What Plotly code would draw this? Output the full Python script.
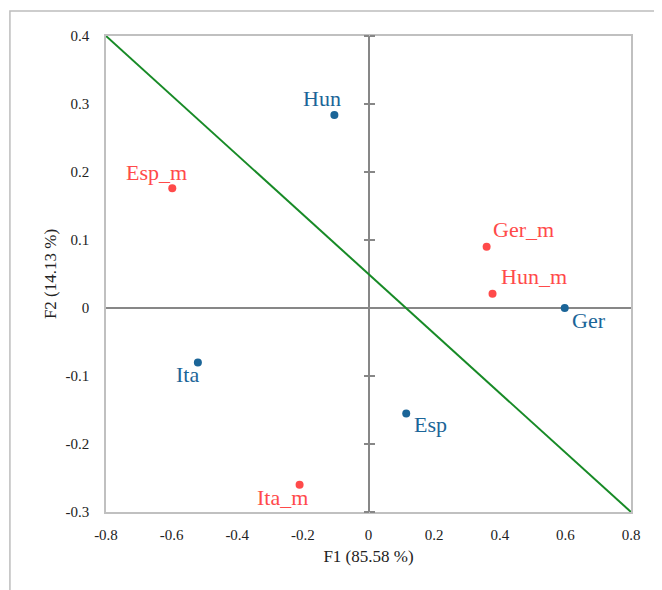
import plotly.graph_objects as go

# ---- data ----
blue_names = ["Hun", "Ger", "Ita", "Esp"]
blue_x = [-0.104, 0.598, -0.520, 0.115]
blue_y = [0.284, 0.000, -0.080, -0.155]

red_names = ["Esp_m", "Ger_m", "Hun_m", "Ita_m"]
red_x = [-0.598, 0.360, 0.378, -0.210]
red_y = [0.176, 0.090, 0.021, -0.260]

line_x = [-0.8, 0.8]
line_y = [0.4, -0.3]

x_ticks = [-0.8, -0.6, -0.4, -0.2, 0, 0.2, 0.4, 0.6, 0.8]
x_ticktext = ["-0.8", "-0.6", "-0.4", "-0.2", "0", "0.2", "0.4", "0.6", "0.8"]
y_ticks = [0.4, 0.3, 0.2, 0.1, 0, -0.1, -0.2, -0.3]
y_ticktext = ["0.4", "0.3", "0.2", "0.1", "0", "-0.1", "-0.2", "-0.3"]

# label offsets (pixels) for text placement
blue_dx = [-12, 24, -10, 24]
blue_dy = [16, -12, -12, -11]
red_dx = [-16, 37, 41, -17]
red_dy = [16, 17, 17, -13]

BLUE = "#1b6598"
RED = "#ff4a4a"
GREEN = "#178a26"
FONT = "Liberation Serif, Times New Roman, DejaVu Serif, serif"

fig = go.Figure()
fig.add_trace(go.Scatter(x=line_x, y=line_y, mode="lines",
                         line=dict(color=GREEN, width=2), hoverinfo="skip"))
fig.add_trace(go.Scatter(x=blue_x, y=blue_y, mode="markers",
                         marker=dict(color=BLUE, size=8)))
fig.add_trace(go.Scatter(x=red_x, y=red_y, mode="markers",
                         marker=dict(color=RED, size=8)))
# helper traces for the cross ticks on the vertical zero axis
fig.add_trace(go.Scatter(x=[None], y=[None], yaxis="y2", showlegend=False, hoverinfo="skip"))
fig.add_trace(go.Scatter(x=[None], y=[None], yaxis="y3", showlegend=False, hoverinfo="skip"))

for names, xs, ys, dxs, dys, col in [
    (blue_names, blue_x, blue_y, blue_dx, blue_dy, BLUE),
    (red_names, red_x, red_y, red_dx, red_dy, RED),
]:
    for n, xv, yv, dx, dy in zip(names, xs, ys, dxs, dys):
        fig.add_annotation(x=xv, y=yv, text=n, showarrow=False,
                           xanchor="center", yanchor="middle",
                           xshift=dx, yshift=dy,
                           font=dict(family=FONT, size=22, color=col))

axis_common = dict(showgrid=False, showline=True, mirror=True,
                   linecolor="#c0c0c0", linewidth=1.5,
                   zeroline=True, zerolinecolor="#878787", zerolinewidth=1.5,
                   ticks="outside", tickcolor="rgba(0,0,0,0)",
                   tickfont=dict(family=FONT, size=15, color="#222222"))

fig.update_layout(
    width=654, height=582,
    margin=dict(l=98, r=31, t=28, b=78),
    paper_bgcolor="white", plot_bgcolor="white",
    showlegend=False,
    font=dict(family=FONT),
    xaxis=dict(range=[-0.8, 0.8], tickvals=x_ticks, ticktext=x_ticktext,
               ticklen=8,
               title=dict(text="F1 (85.58 %)", standoff=8,
                          font=dict(family=FONT, size=17, color="#222222")),
               **axis_common),
    yaxis=dict(range=[-0.3, 0.4], tickvals=y_ticks, ticktext=y_ticktext,
               ticklen=12,
               title=dict(text="F2 (14.13 %)", standoff=5,
                          font=dict(family=FONT, size=17, color="#222222")),
               **axis_common),
    yaxis2=dict(overlaying="y", anchor="free", position=0.5, matches="y",
                side="left",
                tickvals=y_ticks, ticks="outside", ticklen=5, tickwidth=1.5,
                tickcolor="#878787", showticklabels=False, showgrid=False,
                zeroline=False, showline=False),
    yaxis3=dict(overlaying="y", anchor="free", position=0.5, matches="y",
                side="right",
                tickvals=y_ticks, ticks="outside", ticklen=5, tickwidth=1.5,
                tickcolor="#878787", showticklabels=False, showgrid=False,
                zeroline=False, showline=False),
)

# outer frame of the figure (top and left edges visible)
fig.add_shape(type="rect", xref="paper", yref="paper",
              x0=-0.183, x1=1.2, y0=-0.3, y1=1.0525,
              line=dict(color="#bdbdbd", width=1.5), layer="below")

fig.write_html("out.html")
